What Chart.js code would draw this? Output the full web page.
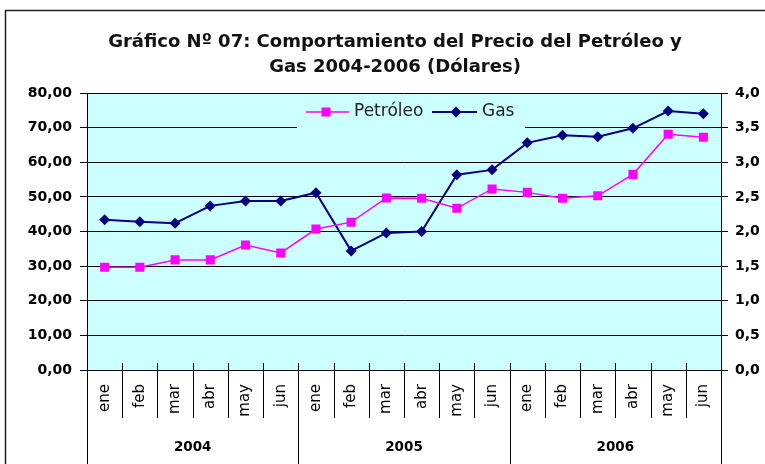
<!DOCTYPE html>
<html>
<head>
<meta charset="utf-8">
<script src="https://cdn.jsdelivr.net/npm/chart.js@4/dist/chart.umd.min.js"></script>
<style>
  html, body { margin: 0; padding: 0; background: #fff; }
  #wrap { width: 765px; height: 464px; }
</style>
</head>
<body>
<div id="wrap"><canvas id="myChart" width="765" height="464"></canvas></div>
<script>
var meses = ['ene', 'feb', 'mar', 'abr', 'may', 'jun',
             'ene', 'feb', 'mar', 'abr', 'may', 'jun',
             'ene', 'feb', 'mar', 'abr', 'may', 'jun'];
var anios = ['2004', '2005', '2006'];
var petroleo = [29.7, 29.7, 31.8, 31.8, 36.1, 33.8,
                40.7, 42.7, 49.7, 49.6, 46.7, 52.3,
                51.3, 49.6, 50.3, 56.5, 68.1, 67.2];
var gas = [2.17, 2.14, 2.12, 2.37, 2.44, 2.44,
           2.56, 1.72, 1.98, 2.00, 2.82, 2.89,
           3.28, 3.39, 3.37, 3.49, 3.74, 3.70];

var FONT = "'DejaVu Sans', sans-serif";

// fondo cian del area de trazado y marco exterior
var fondo = {
    id: 'fondo',
    beforeDraw: function(chart) {
        var c = chart.ctx, a = chart.chartArea;
        c.save();
        c.fillStyle = '#fff';
        c.fillRect(0, 0, chart.width, chart.height);
        c.fillStyle = '#CCFFFF';
        c.fillRect(a.left, a.top, a.right - a.left, a.bottom - a.top);
        c.strokeStyle = '#222';
        c.lineWidth = 1.5;
        c.strokeRect(5.5, 10.5, chart.width + 20, chart.height + 20);
        c.restore();
    }
};

// separadores de meses / años bajo el eje x
var grupos = {
    id: 'grupos',
    afterDraw: function(chart) {
        var c = chart.ctx, x = chart.scales.x, a = chart.chartArea;
        c.save();
        c.strokeStyle = '#000';
        c.lineWidth = 1;
        for (var i = 0; i <= meses.length; i++) {
            var px = Math.round(x.getPixelForValue(i - 0.5)) + 0.5;
            var fin = (i % 6 === 0) ? chart.height : a.bottom + 48;
            c.beginPath();
            c.moveTo(px, a.bottom - 7);
            c.lineTo(px, fin);
            c.stroke();
        }
        c.fillStyle = '#000';
        c.font = 'bold 13.5px ' + FONT;
        c.textAlign = 'center';
        c.textBaseline = 'middle';
        anios.forEach(function(an, k) {
            var cx = (x.getPixelForValue(k * 6 - 0.5) + x.getPixelForValue(k * 6 + 5.5)) / 2;
            c.fillText(an, cx, a.bottom + 77);
        });
        c.restore();
    }
};

// leyenda dentro del area de trazado
var leyenda = {
    id: 'leyenda',
    afterDraw: function(chart) {
        var c = chart.ctx, a = chart.chartArea;
        var w = 228, h = 33;
        var l = (a.left + a.right) / 2 - w / 2 + 7;
        var t = a.top + 2;
        var cy = t + 17;
        c.save();
        c.fillStyle = '#CCFFFF';
        c.fillRect(l, t, w, h);
        var items = [
            { ds: chart.data.datasets[0], x0: 9, x1: 52, m: 29, tx: 57 },
            { ds: chart.data.datasets[1], x0: 135, x1: 180, m: 159, tx: 185 }
        ];
        items.forEach(function(it) {
            c.strokeStyle = it.ds.borderColor;
            c.lineWidth = it.ds.borderWidth;
            c.beginPath();
            c.moveTo(l + it.x0, cy);
            c.lineTo(l + it.x1, cy);
            c.stroke();
            c.fillStyle = it.ds.borderColor;
            var mx = l + it.m;
            if (it.ds.pointStyle === 'rect') {
                c.fillRect(mx - 4.5, cy - 4.5, 9, 9);
            } else {
                c.beginPath();
                c.moveTo(mx, cy - 5.5);
                c.lineTo(mx + 5.5, cy);
                c.lineTo(mx, cy + 5.5);
                c.lineTo(mx - 5.5, cy);
                c.closePath();
                c.fill();
            }
            c.fillStyle = '#222';
            c.font = '17px ' + FONT;
            c.textAlign = 'left';
            c.textBaseline = 'middle';
            c.fillText(it.ds.label, l + it.tx, cy);
        });
        c.restore();
    }
};

var ctx = document.getElementById('myChart').getContext('2d');

var myChart = new Chart(ctx, {
    type: 'line',
    data: {
        labels: meses,
        datasets: [{
            label: 'Petróleo',
            data: petroleo,
            yAxisID: 'y',
            borderColor: '#FF00FF',
            backgroundColor: '#FF00FF',
            borderWidth: 1.5,
            pointStyle: 'rect',
            pointRadius: 6.4,
            pointBorderWidth: 0,
            tension: 0
        }, {
            label: 'Gas',
            data: gas,
            yAxisID: 'y1',
            borderColor: '#000080',
            backgroundColor: '#000080',
            borderWidth: 2,
            pointStyle: 'rectRot',
            pointRadius: 5.5,
            pointBorderWidth: 0,
            tension: 0
        }]
    },
    options: {
        responsive: false,
        animation: false,
        layout: { padding: { left: 25, right: 0, top: 0, bottom: 0 } },
        plugins: {
            legend: { display: false },
            tooltip: { enabled: false },
            title: {
                display: true,
                text: ['Gráfico Nº 07: Comportamiento del Precio del Petróleo y', 'Gas 2004-2006 (Dólares)'],
                color: '#111',
                font: { family: FONT, size: 18, weight: 'bold', lineHeight: 25 / 18 },
                padding: { top: 30, bottom: 13 }
            }
        },
        scales: {
            x: {
                offset: true,
                grid: { display: false, drawTicks: false },
                border: { color: '#000', width: 1 },
                ticks: {
                    color: '#000',
                    font: { family: FONT, size: 15 },
                    minRotation: 90,
                    maxRotation: 90,
                    autoSkip: false,
                    padding: 14
                },
                afterFit: function(s) { s.height = 94; }
            },
            y: {
                position: 'left',
                min: 0,
                max: 80,
                grid: { color: '#000', lineWidth: 1, tickLength: 7 },
                border: { color: '#000', width: 1 },
                ticks: {
                    stepSize: 10,
                    color: '#000',
                    padding: 8,
                    font: { family: FONT, size: 14, weight: 'bold' },
                    callback: function(v) { return v.toFixed(2).replace('.', ','); }
                },
                afterFit: function(s) { s.width = 62; }
            },
            y1: {
                position: 'right',
                min: 0,
                max: 4,
                grid: { drawOnChartArea: false, color: '#000', tickLength: 7 },
                border: { color: '#000', width: 1 },
                ticks: {
                    stepSize: 0.5,
                    color: '#000',
                    padding: 7,
                    font: { family: FONT, size: 14, weight: 'bold' },
                    callback: function(v) { return v.toFixed(1).replace('.', ','); }
                },
                afterFit: function(s) { s.width = 44; }
            }
        }
    },
    plugins: [fondo, grupos, leyenda]
});
</script>
</body>
</html>
